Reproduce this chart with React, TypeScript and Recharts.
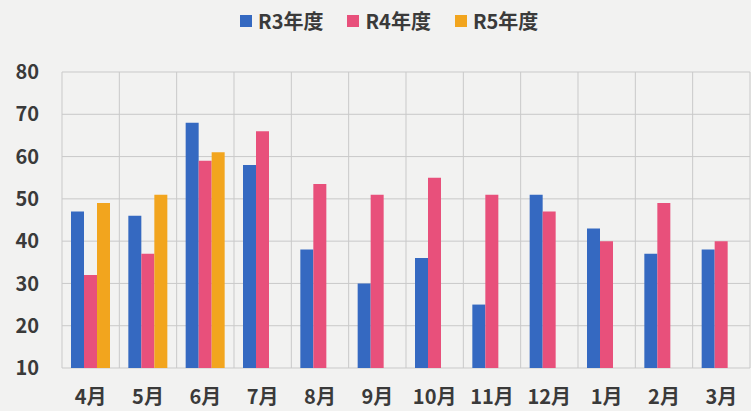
import React from 'react';
import { Bar, BarChart, CartesianGrid, Legend, XAxis, YAxis } from 'recharts';

const months = ['4月', '5月', '6月', '7月', '8月', '9月', '10月', '11月', '12月', '1月', '2月', '3月'];
const r3 = [47, 46, 68, 58, 38, 30, 36, 25, 51, 43, 37, 38];
const r4 = [32, 37, 59, 66, 53.5, 51, 55, 51, 47, 40, 49, 40];
const r5: (number | null)[] = [49, 51, 61, null, null, null, null, null, null, null, null, null];
const yTicks = [10, 20, 30, 40, 50, 60, 70, 80];

const SERIES = [
  { key: 'r3', name: 'R3年度', color: '#3569c1' },
  { key: 'r4', name: 'R4年度', color: '#e8507b' },
  { key: 'r5', name: 'R5年度', color: '#f2a51e' },
];

const data = months.map((m, i) => ({ month: m, r3: r3[i], r4: r4[i], r5: r5[i] }));

const FONT = '"Noto Sans CJK JP", "Noto Sans", sans-serif';

const LegendRow = () => (
  <div style={{ display: 'flex', gap: 24, fontFamily: FONT, fontWeight: 700, fontSize: 20, lineHeight: '26px', color: '#3a3a3a' }}>
    {SERIES.map((s) => (
      <div key={s.key} style={{ display: 'flex', alignItems: 'center', gap: 6 }}>
        <div style={{ width: 12, height: 12, background: s.color }} />
        <span>{s.name}</span>
      </div>
    ))}
  </div>
);

// vertical grid lines sit on category boundaries, not centres
const boundaryLines = ({ offset }: any) =>
  Array.from({ length: months.length + 1 }, (_, i) => offset.left + (i * offset.width) / months.length);

export default function App() {
  return (
    <div style={{ position: 'absolute', left: 0, top: 0, width: 751, height: 411, background: '#f2f2f1' }}>
      <BarChart
        width={751}
        height={411}
        data={data}
        margin={{ top: 46, right: 1, left: 0, bottom: 0 }}
        barSize={13}
        barGap={0}
      >
        <CartesianGrid stroke="#c9c9c9" verticalCoordinatesGenerator={boundaryLines} />
        <XAxis
          dataKey="month"
          height={43}
          axisLine={false}
          tickLine={false}
          tickMargin={16}
          tick={{ fontSize: 20, fontWeight: 700, fill: '#3a3a3a', fontFamily: FONT }}
        />
        <YAxis
          width={62}
          domain={[10, 80]}
          ticks={yTicks}
          axisLine={false}
          tickLine={false}
          tickMargin={17}
          tick={{ fontSize: 20, fontWeight: 700, fill: '#3a3a3a', fontFamily: FONT }}
        />
        <Legend
          verticalAlign="top"
          content={() => <LegendRow />}
          wrapperStyle={{ top: 8, left: 240, width: 330, height: 26 }}
        />
        {SERIES.map((s) => (
          <Bar key={s.key} dataKey={s.key} name={s.name} fill={s.color} isAnimationActive={false} />
        ))}
      </BarChart>
    </div>
  );
}
